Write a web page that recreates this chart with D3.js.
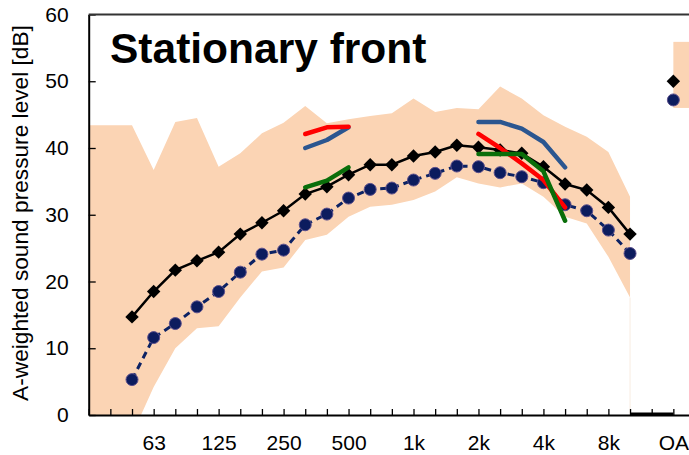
<!DOCTYPE html>
<html>
<head>
<meta charset="utf-8">
<script src="https://cdn.jsdelivr.net/npm/d3@7"></script>
<style>
  body { margin: 0; background: #fff; }
  text { font-family: 'Liberation Sans', Arial, sans-serif; fill: #000; }
  .axis path, .axis line { stroke: #000; }
  .axis text { font-size: 21px; }
</style>
</head>
<body>
<div id="chart-area"></div>
<script>
// 1/3 octave band index: 0 = 31.5 Hz ... 25 = 10 kHz, 27 = OA
const bands = ['31.5', '40', '50', '63', '80', '100', '125', '160', '200', '250',
  '315', '400', '500', '630', '800', '1k', '1.25k', '1.6k', '2k', '2.5k',
  '3.15k', '4k', '5k', '6.3k', '8k', '10k', '', 'OA'];
const shownLabels = ['63', '125', '250', '500', '1k', '2k', '4k', '8k', 'OA'];

// range band (orange), index 0..25
const bandUpper = [43.4, 43.4, 43.4, 36.7, 43.9, 44.5, 37.2, 39.2, 42.2, 43.8,
  46.3, 43.7, 44.3, 44.8, 45.2, 47.4, 45.4, 46.0, 45.8, 49.2,
  47.4, 44.9, 43.2, 41.7, 39.4, 32.7];
const bandLower = [-5, -5, -3.0, 4.2, 10.0, 13.0, 13.3, 17.6, 21.5, 22.1,
  26.2, 27.0, 29.7, 31.2, 31.5, 32.2, 33.5, 35.6, 34.7, 34.1,
  34.7, 32.7, 29.7, 28.7, 23.7, 17.6];
const bandOA = [46.0, 55.9];

// black diamonds, index 2..25 then OA
const levelStart = 2;
const levelBlack = [14.7, 18.5, 21.7, 23.1, 24.4, 27.1, 28.8, 30.6, 33.1, 34.2,
  36.0, 37.5, 37.5, 38.8, 39.4, 40.4, 40.1, 39.7, 39.2, 37.2,
  34.6, 33.7, 31.1, 27.1];
const levelBlackOA = 50.0;

// navy circles, index 2..25 then OA
const levelNavy = [5.3, 11.6, 13.7, 16.2, 18.5, 21.4, 24.1, 24.7, 28.5, 30.1,
  32.5, 33.8, 34.0, 35.2, 36.2, 37.3, 37.2, 36.3, 35.7, 34.8,
  31.5, 30.6, 27.7, 24.2];
const levelNavyOA = 47.2;

// short coloured curves
const seg1Start = 10;
const red1 = [42.1, 43.1, 43.2];
const blue1 = [40.0, 41.2, 43.1];
const green1 = [34.1, 35.1, 37.1];
const seg2Start = 18;
const red2 = [42.1, 40.0, 37.7, 35.2, 31.1];
const blue2 = [43.9, 43.9, 42.9, 40.9, 37.1];
const green2 = [39.1, 39.1, 39.1, 36.5, 29.1];

const W = 689, H = 455;
const svg = d3.select('#chart-area').append('svg')
  .attr('width', W).attr('height', H);

const x = d3.scaleLinear().domain([0, 28]).range([88.7, 695]);
const y = d3.scaleLinear().domain([0, 60]).range([415, 14.5]);

// clip to plot area
svg.append('clipPath').attr('id', 'plot')
  .append('rect')
  .attr('x', x(0)).attr('y', y(60))
  .attr('width', x(28) - x(0)).attr('height', y(0) - y(60));

const plot = svg.append('g').attr('clip-path', 'url(#plot)');

// band
const bandData = bandUpper.map((u, i) => ({ i, u, l: bandLower[i] }));
const area = d3.area()
  .x((d) => x(d.i))
  .y0((d) => y(d.l))
  .y1((d) => y(d.u));
plot.append('path')
  .datum(bandData)
  .attr('fill', '#fbd4b4')
  .attr('d', area);

plot.append('rect')
  .attr('x', x(27)).attr('y', y(bandOA[1]))
  .attr('width', x(28) - x(27))
  .attr('height', y(bandOA[0]) - y(bandOA[1]))
  .attr('fill', '#fbd4b4');

// faint edge where band stops
plot.append('line')
  .attr('x1', x(25)).attr('x2', x(25))
  .attr('y1', y(bandLower[25])).attr('y2', y(0))
  .attr('stroke', '#f8ece2').attr('stroke-width', 1);

const line = d3.line()
  .x((d) => x(d.i))
  .y((d) => y(d.v));

const toPts = (arr, start) => arr.map((v, k) => ({ i: start + k, v }));

const blackPts = toPts(levelBlack, levelStart);
const navyPts = toPts(levelNavy, levelStart);

// navy dashed series
plot.append('path')
  .datum(navyPts)
  .attr('fill', 'none')
  .attr('stroke', '#0c2264')
  .attr('stroke-width', 3)
  .attr('stroke-dasharray', '7,5')
  .attr('d', line);

// black series
plot.append('path')
  .datum(blackPts)
  .attr('fill', 'none')
  .attr('stroke', '#000')
  .attr('stroke-width', 2.5)
  .attr('d', line);

const diamond = d3.symbol().type(d3.symbolDiamond2).size(115);

plot.selectAll('.dia')
  .data(blackPts.concat([{ i: 27, v: levelBlackOA }]))
  .enter().append('path')
  .attr('class', 'dia')
  .attr('transform', (d) => `translate(${x(d.i)},${y(d.v)})`)
  .attr('d', diamond)
  .attr('fill', '#000');

plot.selectAll('.dot')
  .data(navyPts.concat([{ i: 27, v: levelNavyOA }]))
  .enter().append('circle')
  .attr('class', 'dot')
  .attr('cx', (d) => x(d.i))
  .attr('cy', (d) => y(d.v))
  .attr('r', 6)
  .attr('fill', '#0c1c5e')
  .attr('stroke', '#5b4f8c')
  .attr('stroke-width', 1);

// coloured curves
const curves = [
  { vals: blue1, start: seg1Start, color: '#2b5690' },
  { vals: red1, start: seg1Start, color: '#ff0000' },
  { vals: green1, start: seg1Start, color: '#0a6e0a' },
  { vals: blue2, start: seg2Start, color: '#2b5690' },
  { vals: red2, start: seg2Start, color: '#ff0000' },
  { vals: green2, start: seg2Start, color: '#0a6e0a' },
];
curves.forEach((c) => {
  plot.append('path')
    .datum(toPts(c.vals, c.start))
    .attr('fill', 'none')
    .attr('stroke', c.color)
    .attr('stroke-width', 4.5)
    .attr('stroke-linecap', 'round')
    .attr('stroke-linejoin', 'round')
    .attr('d', line);
});

// axes
const xAxisCall = d3.axisBottom(x)
  .tickValues(d3.range(0, 29))
  .tickSizeInner(-6)
  .tickSizeOuter(0)
  .tickPadding(20)
  .tickFormat((d) => (shownLabels.includes(bands[d]) ? bands[d] : ''));

const xAxis = svg.append('g')
  .attr('class', 'x axis')
  .attr('transform', `translate(0, ${y(0)})`)
  .call(xAxisCall);
xAxis.select('.domain').attr('stroke-width', 2);
xAxis.selectAll('.tick line').attr('stroke', '#222').attr('stroke-width', 1.3);

const yAxisCall = d3.axisLeft(y)
  .tickValues(d3.range(0, 61, 10))
  .tickSizeInner(-7)
  .tickSizeOuter(0)
  .tickPadding(20);

const yAxis = svg.append('g')
  .attr('class', 'y axis')
  .attr('transform', `translate(${x(0)}, 0)`)
  .call(yAxisCall);
yAxis.select('.domain').attr('stroke-width', 2);
yAxis.selectAll('.tick line').attr('stroke', '#222').attr('stroke-width', 1.3);

// thick base segment under the empty band slot
svg.append('line')
  .attr('x1', x(25)).attr('x2', x(27))
  .attr('y1', y(0) - 1).attr('y2', y(0) - 1)
  .attr('stroke', '#000').attr('stroke-width', 3);

// top border of plot area
svg.append('line')
  .attr('x1', x(0)).attr('x2', W)
  .attr('y1', y(60)).attr('y2', y(60))
  .attr('stroke', '#333').attr('stroke-width', 2);

// axis title
svg.append('text')
  .attr('transform', 'translate(28, 213) rotate(-90)')
  .attr('text-anchor', 'middle')
  .style('font-size', '22.7px')
  .text('A-weighted sound pressure level [dB]');

// chart title
svg.append('text')
  .attr('x', 110)
  .attr('y', 63)
  .style('font-size', '42.5px')
  .style('font-weight', 'bold')
  .text('Stationary front');
</script>
</body>
</html>
